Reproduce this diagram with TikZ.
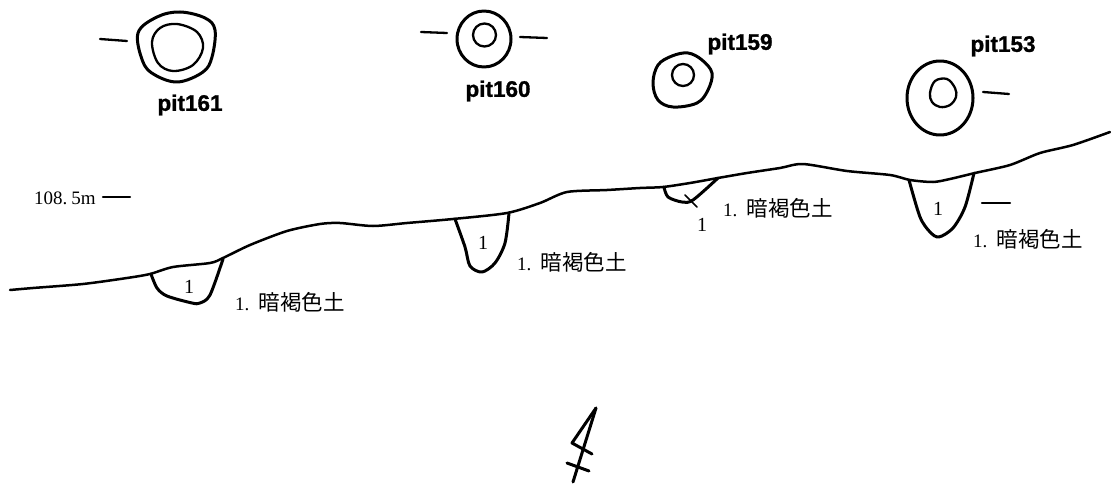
\documentclass[tikz,border=0pt]{standalone}
\usepackage{fontspec}
\setmainfont{Liberation Serif}
\newfontfamily\cjkf{Noto Sans CJK JP}
\newfontfamily\pitf{Liberation Sans}[BoldFont={Liberation Sans Bold},BoldFeatures={FakeBold=1.2}]
\newcommand{\soil}{{\cjkf\fontsize{21.5}{22}\selectfont 暗褐色土}}
\begin{document}
\begin{tikzpicture}[x=1pt,y=-1pt,
  thick line/.style={line width=3pt,line join=round,line cap=round},
  ground line/.style={line width=2.5pt,line join=round,line cap=round},
  mid line/.style={line width=2.3pt,line join=round,line cap=round},
  thin line/.style={line width=1.5pt,line cap=round},
  pit label/.style={inner sep=0pt,font=\pitf\bfseries\fontsize{22.5}{24}\selectfont},
  num/.style={inner sep=0pt,font=\fontsize{20}{20}\selectfont},
  layer/.style={inner sep=0pt,anchor=west,font=\fontsize{19}{20}\selectfont}]
\useasboundingbox (0,0) rectangle (1111,484);
% ground line
\draw[ground line,smooth,tension=0.45] plot coordinates {(10,290)(33,288)(83,284)(127,278)(150,274)(173,267)(210,263)(223,258)(250,245)(287,231)(320,224)(340,223)(373,226)(407,223)(453,219)(507,213)(540,203)(567,192)(607,190)(640,188)(663,187)(690,183)(718,178)(747,173)(780,168)(803,164)(847,171)(890,175)(910,180)(933,182)(950,179)(975,173)(1010,165)(1040,153)(1073,145)(1110,132)};
% section pits
\draw[thick line,smooth,tension=0.5] plot coordinates {(151,274)(157,288)(167,296)(192,303)(200,303)(210,295)(223,259)};
\draw[thick line,smooth,tension=0.5] plot coordinates {(455,219)(465,247)(470,266)(482,272)(495,263)(505,243)(509,213)};
\draw[thick line,smooth,tension=0.5] plot coordinates {(664,187)(668,197)(682,202)(693,200)(718,178)};
\draw[thick line,smooth,tension=0.5] plot coordinates {(909,180)(920,217)(930,232)(939,237)(953,228)(965,207)(974,173)};
\draw[thin line] (685,195) -- (697,207);
% plan of pit161
\draw[thick line,smooth cycle,tension=0.6] plot coordinates {(138,33)(157,17)(180,12)(205,18)(215,30)(212,57)(203,72)(178,82)(155,75)(143,62)};
\draw[mid line,smooth cycle,tension=0.6] plot coordinates {(152,42)(160,28)(177,24)(197,32)(203,48)(193,65)(173,71)(158,63)};
\draw[mid line] (100,39) -- (127,41);
% plan of pit160
\draw[thick line] (484,39) ellipse (27 and 28);
\draw[mid line] (484.5,35) circle (11.5);
\draw[mid line] (421,32) -- (447,33);
\draw[mid line] (520,37) -- (547,38);
% plan of pit159
\draw[thick line,smooth cycle,tension=0.6] plot coordinates {(653,83)(658,65)(672,56)(688,53)(702,60)(712,73)(708,90)(697,103)(673,107)(658,100)};
\draw[mid line] (683,75) circle (11);
% plan of pit153
\draw[thick line] (940,98) ellipse (33 and 37);
\draw[mid line,smooth cycle,tension=0.6] plot coordinates {(930,93)(935,81)(947,79)(955,88)(956,97)(950,105)(940,107)(932,102)};
\draw[mid line] (983,92) -- (1009,94);
% level mark
\draw[mid line] (103,197) -- (130,197);
\draw[mid line] (982,203) -- (1010,203);
% north arrow
\draw[thick line] (596,408) -- (572,443) -- (592,454);
\draw[thick line] (596,408) -- (573,482);
\draw[thick line] (567,463) -- (589,471);
% labels
\node[pit label] (p161) at (190,105) {pit161};
\node[pit label] (p160) at (498,91) {pit160};
\node[pit label] (p159) at (740,44) {pit159};
\node[pit label] (p153) at (1003,46) {pit153};
\node[layer] (lvl) at (34,198) {108.\hspace{4pt}5m};
\node[num] (n1) at (189,287) {1};
\node[num] (n2) at (483,243) {1};
\node[num] (n3) at (702,225) {1};
\node[num] (n4) at (938,209) {1};
\node[layer] (l1) at (235,302) {1. \hspace{3pt}\soil};
\node[layer] (l2) at (517,262) {1. \hspace{3pt}\soil};
\node[layer] (l3) at (723,208) {1. \hspace{3pt}\soil};
\node[layer] (l4) at (973,239) {1. \hspace{3pt}\soil};
\end{tikzpicture}
\end{document}
